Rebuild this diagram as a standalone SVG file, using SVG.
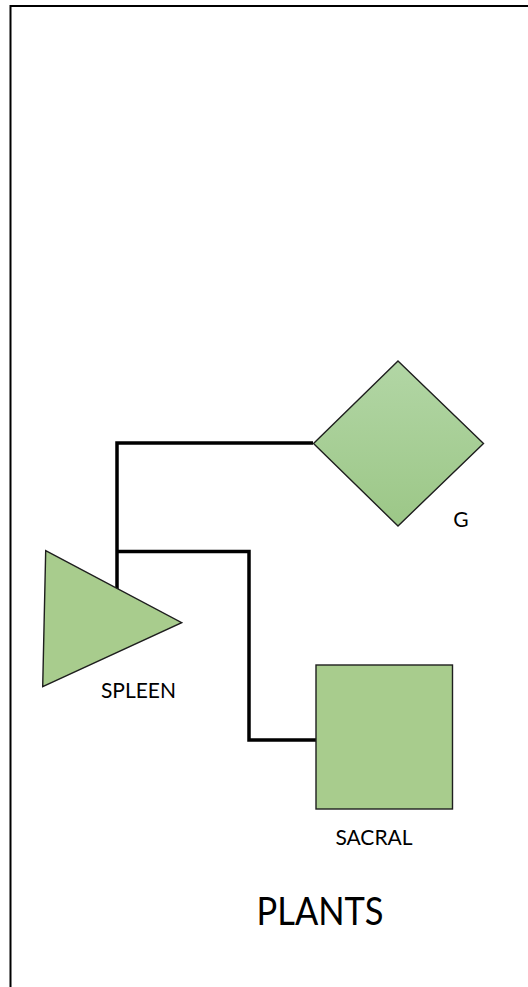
<svg xmlns="http://www.w3.org/2000/svg" width="528" height="987" viewBox="0 0 528 987">
<defs>
<linearGradient id="dg" x1="0" y1="0" x2="0" y2="1">
<stop offset="0" stop-color="#b2d6a5"/>
<stop offset="1" stop-color="#9cc787"/>
</linearGradient>
<style>
.shape{stroke:#1e1e1e;stroke-width:1.4;}
.flat{fill:#a8cc8d;}
.conn{fill:none;stroke:#000;stroke-width:3.5;stroke-linejoin:miter;}
.lbl{font-family:Lato,"Open Sans","Liberation Sans",sans-serif;font-size:21px;fill:#000;text-anchor:middle;}
.title{font-family:Lato,"Open Sans","Liberation Sans",sans-serif;font-size:39px;fill:#000;text-anchor:middle;}
</style>
</defs>
<rect x="0" y="0" width="528" height="987" fill="#fff"/>
<rect id="frame" x="10.5" y="6" width="560" height="1020" fill="none" stroke="#000" stroke-width="2"/>
<g id="connectors">
<path class="conn" d="M313,443 H117 V600"/>
<path class="conn" d="M117,551.5 H249 V740 H316"/>
</g>
<g id="node-g">
<polygon class="shape" fill="url(#dg)" points="398,361 483.5,443.5 398,526 313.5,443.5"/>
<text class="lbl" x="461" y="527">G</text>
</g>
<g id="node-spleen">
<polygon class="shape flat" points="45.7,550.7 181.7,622.7 42.7,686.7"/>
<text class="lbl" x="138.5" y="698">SPLEEN</text>
</g>
<g id="node-sacral">
<rect class="shape flat" x="316" y="665" width="136.5" height="144"/>
<text class="lbl" x="374" y="845">SACRAL</text>
</g>
<g id="title">
<text class="title" x="320" y="925" textLength="127" lengthAdjust="spacingAndGlyphs">PLANTS</text>
</g>
</svg>
